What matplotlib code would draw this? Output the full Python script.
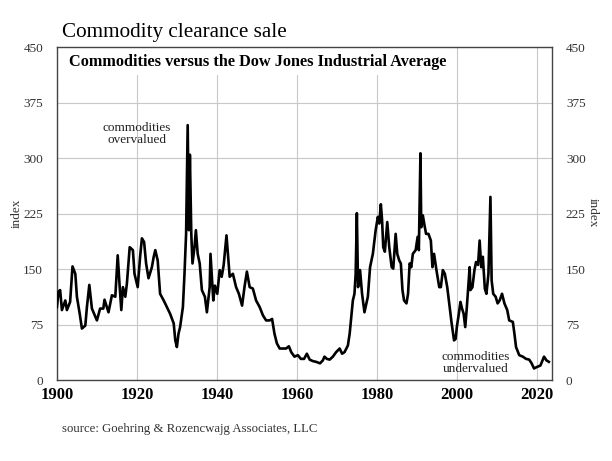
import matplotlib
matplotlib.use("Agg")
import matplotlib.pyplot as plt
from matplotlib.patches import Rectangle

# Commodities / DJIA ratio
years = [
    1900.0, 1900.4, 1900.8, 1901.25, 1902.1, 1902.5, 1903.3, 1903.9, 1904.6, 1905.0,
    1905.7, 1906.25, 1907.1, 1907.5, 1908.1, 1908.75, 1910.0, 1910.8, 1911.6, 1911.9,
    1912.9, 1913.75, 1914.6, 1915.2, 1915.7, 1916.1, 1916.5, 1917.1, 1917.5, 1918.2,
    1919.0, 1919.4, 1920.2, 1920.8, 1921.25, 1921.8, 1922.3, 1922.9, 1923.75, 1924.2,
    1924.6, 1925.2, 1925.8, 1926.7, 1927.5, 1928.3, 1929.2, 1929.6, 1930.0, 1930.4,
    1930.8, 1931.5, 1931.9, 1932.3, 1932.7, 1933.0, 1933.25, 1933.6, 1933.9, 1934.4,
    1934.75, 1935.2, 1935.7, 1936.25, 1937.0, 1937.5, 1938.2, 1938.4, 1939.1, 1939.5,
    1940.1, 1940.7, 1941.2, 1941.7, 1942.4, 1943.2, 1944.0, 1944.8, 1945.5, 1946.3,
    1946.9, 1947.5, 1948.2, 1949.0, 1949.8, 1950.7, 1951.5, 1952.3, 1953.2, 1953.8,
    1954.4, 1955.0, 1955.7, 1956.5, 1957.3, 1958.0, 1958.6, 1959.4, 1960.25, 1961.0,
    1961.8, 1962.5, 1963.2, 1964.0, 1964.8, 1965.8, 1966.5, 1966.9, 1967.5, 1968.2,
    1969.0, 1969.8, 1970.7, 1971.3, 1971.9, 1972.75, 1973.2, 1973.6, 1974.0, 1974.4,
    1974.7, 1975.0, 1975.3, 1975.8, 1976.3, 1976.9, 1977.75, 1978.3, 1979.0, 1979.7,
    1980.25, 1980.6, 1981.0, 1981.3, 1981.6, 1982.0, 1982.6, 1983.1, 1983.7, 1984.1,
    1984.7, 1985.1, 1985.6, 1986.0, 1986.4, 1986.8, 1987.4, 1987.8, 1988.2, 1988.6,
    1989.0, 1989.7, 1990.2, 1990.5, 1990.9, 1991.1, 1991.5, 1991.9, 1992.3, 1992.9,
    1993.5, 1993.9, 1994.3, 1994.9, 1995.6, 1996.0, 1996.5, 1997.0, 1997.6, 1998.0,
    1998.7, 1999.3, 1999.7, 2000.0, 2000.5, 2000.9, 2001.3, 2001.7, 2002.1, 2002.5,
    2002.8, 2003.2, 2003.4, 2003.9, 2004.4, 2004.8, 2005.3, 2005.7, 2006.1, 2006.5,
    2007.0, 2007.4, 2007.9, 2008.4, 2008.7, 2009.1, 2009.7, 2010.2, 2010.7, 2011.3,
    2011.9, 2012.6, 2013.1, 2014.0, 2014.4, 2014.8, 2015.6, 2016.5, 2017.3, 2018.1,
    2018.7, 2019.3, 2020.0, 2020.9, 2021.8, 2022.4, 2023.0,
]
ratio = [
    99, 120, 122, 95, 108, 95, 106, 154, 144, 113,
    90, 70, 74, 99, 129, 97, 81, 97, 97, 109,
    92, 115, 113, 169, 126, 95, 126, 113, 131, 180,
    176, 144, 126, 167, 192, 187, 158, 138, 153, 167,
    176, 162, 117, 108, 99, 90, 77, 54, 45, 63,
    72, 99, 144, 198, 345, 203, 305, 198, 158, 180,
    203, 171, 158, 122, 113, 92, 126, 171, 108, 128,
    117, 149, 140, 156, 196, 140, 144, 126, 117, 101,
    126, 147, 126, 124, 108, 99, 88, 81, 81, 83,
    63, 50, 43, 43, 43, 46, 38, 32, 34, 29,
    29, 36, 28, 26, 25, 23, 27, 32, 29, 28,
    32, 38, 43, 36, 38, 47, 63, 86, 108, 117,
    144, 226, 126, 149, 117, 92, 113, 153, 171, 203,
    221, 212, 238, 217, 180, 174, 214, 180, 153, 151,
    198, 171, 162, 158, 122, 108, 104, 117, 158, 153,
    171, 176, 194, 176, 307, 207, 223, 210, 198, 198,
    189, 153, 171, 149, 126, 126, 149, 144, 126, 108,
    77, 54, 56, 72, 90, 106, 97, 90, 72, 99,
    122, 153, 122, 126, 149, 160, 156, 189, 153, 167,
    124, 117, 144, 248, 135, 117, 113, 104, 108, 117,
    104, 95, 81, 79, 63, 45, 34, 32, 29, 28,
    23, 16, 18, 20, 32, 27, 25,
]

x_ticks = [1900, 1920, 1940, 1960, 1980, 2000, 2020]
y_ticks = [0, 75, 150, 225, 300, 375, 450]

plt.rcParams["font.family"] = "Liberation Serif"

fig = plt.figure(figsize=(6.12, 4.61), dpi=100, facecolor="white")
ax = fig.add_axes([0.093, 0.175, 0.809, 0.722])
ax.set_axisbelow(True)

ax.plot(years, ratio, color="black", lw=1.9, zorder=3)

ax.set_xlim(1900, 2023.8)
ax.set_ylim(0, 450)
ax.set_xticks(x_ticks)
ax.set_yticks(y_ticks)
ax.grid(True, color="#c8c8c8", lw=0.8)

ax.tick_params(axis="both", length=0)
ax.tick_params(axis="y", labelsize=9.5, labelcolor="#333333", pad=10,
               labelright=True, right=True)
ax.tick_params(axis="x", labelsize=12, pad=5)
for lab in ax.get_xticklabels():
    lab.set_fontweight("bold")

for sp in ax.spines.values():
    sp.set_color("#444444")
    sp.set_linewidth(1.0)

# white panel behind the subtitle hides the grid lines there
ax.add_patch(Rectangle((0, 0.916), 0.795, 0.084, transform=ax.transAxes,
                       facecolor="white", edgecolor="none", zorder=1))
ax.text(0.024, 0.955, "Commodities versus the Dow Jones Industrial Average",
        transform=ax.transAxes, fontsize=11.7, fontweight="bold",
        ha="left", va="center", zorder=4)

ax.text(1920, 333, "commodities\novervalued", fontsize=9.5, ha="center",
        va="center", linespacing=1.0, color="#222222")
ax.text(2004.8, 24, "commodities\nundervalued", fontsize=9.5, ha="center",
        va="center", linespacing=1.0, color="#222222")

fig.text(0.101, 0.92, "Commodity clearance sale", fontsize=15.2,
         ha="left", va="baseline")
fig.text(0.028, 0.538, "index", fontsize=9.5, rotation=90,
         ha="center", va="center", color="#333333")
fig.text(0.969, 0.538, "index", fontsize=9.5, rotation=270,
         ha="center", va="center", color="#333333")
fig.text(0.102, 0.069, "source: Goehring & Rozencwajg Associates, LLC",
         fontsize=9.2, ha="left", va="center", color="#333333")

fig.savefig("out.png", dpi=100, facecolor="white")
